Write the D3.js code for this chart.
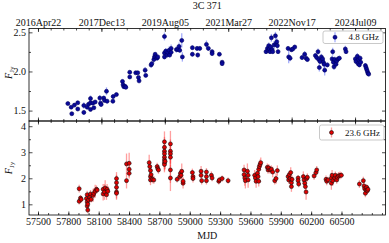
<!DOCTYPE html>
<html>
<head>
<meta charset="utf-8">
<script src="https://cdn.jsdelivr.net/npm/d3@7"></script>
<style>
  body { margin: 0; background: #fff; }
  text { font-family: "Liberation Serif", "Times New Roman", serif; }
</style>
</head>
<body>
<svg id="chart" width="389" height="243"></svg>
<script>
// 4.8 GHz light curve (top panel)
const mjd5 = [57795,57828,57834,57860,57893,57893,57953,57953,57986,57999,58019,58019,58019,58042,58052,58065,
  58111,58118,58124,58150,58157,58177,58183,58240,58243,58275,58335,58341,58348,58361,58368,58407,58407,
  58466,58486,58493,58499,58559,58565,58618,58625,58645,58651,58658,58664,58677,58684,58750,58750,58750,
  58763,58776,58783,58796,58802,58816,58816,58868,58881,58894,58901,58921,58927,59026,59026,59072,59079,
  59099,59165,59184,59221,59221,59293,59320,59320,
  59754,59768,59774,59781,59787,59794,59800,59807,59814,59820,59833,59847,59853,59860,59866,59873,
  59972,59978,59992,60005,60018,60038,60110,60136,60150,60163,
  60242,60255,60268,60275,60281,60288,60301,60314,60321,60328,60334,60360,
  60407,60413,60420,60426,60433,60446,60453,60466,60479,60538,60545,
  60637,60644,60657,60664,60670,60677,60684,60690,60736,60743,60749,60756,60762,60769];
const flux5 = [1.59,1.544,1.46,1.57,1.60,1.52,1.565,1.477,1.544,1.58,1.654,1.60,1.515,1.595,1.536,1.61,
  1.66,1.595,1.578,1.66,1.63,1.747,1.62,1.62,1.68,1.705,1.873,1.83,1.806,1.81,1.797,1.99,1.93,
  1.983,1.983,1.924,1.88,2.017,1.95,2.084,2.10,2.152,2.186,2.22,2.186,2.17,2.186,2.447,2.236,2.186,
  2.26,2.21,2.245,2.27,2.21,2.295,2.245,2.28,2.28,2.32,2.27,2.397,2.186,2.304,2.22,2.295,2.21,
  2.295,2.346,2.295,2.253,2.228,2.22,2.118,2.10,
  2.253,2.295,2.27,2.33,2.287,2.253,2.312,2.43,2.278,2.253,2.338,2.456,2.354,2.38,2.33,2.253,
  2.295,2.186,2.17,2.278,2.287,2.312,2.177,2.22,2.17,2.152,
  2.203,2.177,2.253,2.152,2.05,2.127,2.186,2.16,2.118,2.093,2.017,2.084,
  2.16,2.253,2.118,2.06,2.152,2.093,2.135,2.16,2.17,2.287,2.253,
  2.16,2.127,2.194,2.10,2.152,2.084,2.17,2.118,2.076,2.05,2.025,2.0,1.975,1.966];
const err5 = [0.02,0.02,0.02,0.02,0.02,0.02,0.04,0.03,0.03,0.02,0.04,0.03,0.02,0.02,0.02,0.02,
  0.04,0.04,0.03,0.03,0.02,0.05,0.03,0.03,0.03,0.02,0.03,0.03,0.03,0.03,0.02,0.02,0.02,
  0.02,0.02,0.02,0.03,0.04,0.02,0.04,0.03,0.04,0.04,0.03,0.04,0.03,0.03,0.05,0.04,0.03,
  0.04,0.03,0.04,0.05,0.03,0.05,0.03,0.04,0.03,0.05,0.03,0.09,0.06,0.03,0.03,0.03,0.03,
  0.03,0.05,0.03,0.03,0.03,0.02,0.02,0.02,
  0.03,0.05,0.03,0.04,0.03,0.03,0.04,0.05,0.04,0.03,0.05,0.05,0.04,0.05,0.04,0.03,
  0.03,0.08,0.04,0.03,0.03,0.03,0.03,0.04,0.04,0.03,
  0.03,0.03,0.04,0.04,0.05,0.03,0.04,0.03,0.04,0.05,0.07,0.03,
  0.04,0.05,0.04,0.04,0.04,0.03,0.03,0.03,0.03,0.04,0.03,
  0.03,0.03,0.04,0.03,0.03,0.03,0.03,0.03,0.03,0.03,0.03,0.03,0.03,0.03];

// 23.6 GHz light curve (bottom panel)
const mjd23 = [57907,57907,57920,57927,57979,57986,57986,57986,57992,57992,57999,58012,58019,58025,
  58045,58052,58065,58078,58085,58144,58144,58157,58164,58177,58183,58190,
  58276,58276,58276,58276,58276,58375,58375,58401,58401,58401,
  58599,58605,58612,58612,58618,58612,58632,58645,58678,58684,58691,
  58750,58750,58750,58750,58750,58750,58750,58750,58756,58809,58809,58809,58809,58809,58809,
  58875,58901,58908,58914,58921,58934,58934,59026,59032,59032,59112,59112,59118,59165,59165,59165,
  59214,59221,59287,59293,59320,59379,
  59537,59537,59544,59550,59570,59577,59577,
  59642,59649,59656,59669,59675,59682,59688,59695,59702,59682,
  59767,59774,59781,59794,59807,59820,59840,59853,59866,
  59972,59978,59985,59992,59998,60005,60005,60011,60071,60071,60077,
  60123,60130,60137,60143,60150,60156,60163,60229,60248,60255,
  60347,60354,60367,60400,60400,60407,60413,60433,60439,60453,60459,60472,60486,60499,
  60677,60716,60723,60729,60736,60743,60749,60756,60762];
const flux23 = [1.60,1.115,1.24,1.19,1.22,1.37,1.09,0.936,1.01,0.78,1.167,1.27,1.40,1.19,
  1.346,1.42,1.50,1.577,1.55,1.577,1.40,1.474,1.628,1.37,1.577,1.50,
  1.987,1.833,1.654,1.474,1.423,2.55,1.91,2.577,2.346,2.19,
  2.60,2.45,2.295,2.064,2.14,1.936,1.96,1.936,2.45,2.37,2.32,
  3.40,3.19,3.04,2.94,2.81,2.705,2.60,2.53,2.65,3.32,3.04,2.94,2.81,2.32,2.01,
  1.96,2.064,2.19,2.115,2.27,1.81,1.885,2.22,2.064,1.99,2.27,2.115,1.91,2.24,2.064,1.91,
  2.115,2.01,1.885,1.936,1.99,1.91,
  2.32,2.14,2.01,1.91,2.27,2.115,1.936,
  2.115,2.01,1.885,2.19,2.064,2.346,2.45,2.526,2.60,1.885,
  2.42,2.32,2.40,2.32,2.346,2.24,1.91,1.99,2.295,
  2.064,1.936,2.14,1.99,2.22,1.833,1.68,1.96,2.01,1.91,1.78,
  2.064,1.936,1.81,1.68,1.474,1.99,2.04,2.09,2.22,2.32,
  1.96,1.885,1.936,2.01,1.81,2.115,1.91,2.01,2.115,1.936,2.04,2.09,2.115,2.115,
  1.78,1.91,1.705,1.60,1.423,1.55,1.654,1.526,1.577];
const err23 = [0.15,0.12,0.12,0.12,0.12,0.15,0.15,0.12,0.15,0.12,0.12,0.12,0.15,0.12,
  0.25,0.2,0.25,0.15,0.12,0.2,0.25,0.3,0.3,0.2,0.2,0.2,
  0.25,0.3,0.25,0.3,0.2,0.4,0.3,0.4,0.3,0.2,
  0.3,0.25,0.2,0.2,0.2,0.2,0.15,0.15,0.15,0.15,0.15,
  0.4,0.4,0.45,0.4,0.3,0.35,0.3,0.3,0.3,0.5,0.45,0.4,0.4,0.5,0.5,
  0.12,0.15,0.15,0.15,0.3,0.2,0.15,0.15,0.15,0.15,0.2,0.15,0.15,0.15,0.15,0.15,
  0.15,0.12,0.12,0.12,0.12,0.12,
  0.2,0.2,0.3,0.3,0.3,0.25,0.3,
  0.2,0.2,0.25,0.2,0.2,0.25,0.2,0.2,0.2,0.2,
  0.15,0.15,0.15,0.15,0.15,0.2,0.15,0.2,0.2,
  0.15,0.15,0.15,0.15,0.2,0.2,0.2,0.15,0.12,0.12,0.12,
  0.2,0.2,0.2,0.2,0.3,0.15,0.15,0.15,0.15,0.15,
  0.15,0.15,0.12,0.2,0.25,0.2,0.2,0.15,0.15,0.15,0.15,0.15,0.15,0.12,
  0.15,0.15,0.15,0.15,0.15,0.12,0.12,0.12,0.12];

// axis ticks and labels
const mjdTicks = [57500,57800,58100,58400,58700,59000,59300,59600,59900,60200,60500];
const dateTicks = [57500,58100,58700,59300,59900,60500];
const dateLabels = ["2016Apr22","2017Dec13","2019Aug05","2021Mar27","2022Nov17","2024Jul09"];
const ticks5 = [1.5,2.0,2.5];
const ticks23 = [1,2,3,4];

const svg = d3.select("#chart");
const left = 29, right = 385.5, top1 = 28.5, mid = 121, bot = 215;

// bottom MJD scale and the (slightly different) calendar-date scale on top
const x = d3.scaleLinear().domain([57411, 60935]).range([left, right]);
const xd = d3.scaleLinear().domain([57415, 60788]).range([left, right]);
const y5 = d3.scaleLinear().domain([1.367, 2.549]).range([mid, top1]);
const y23 = d3.scaleLinear().domain([0.59, 4.2]).range([bot, mid]);

const fontSize = 10;

function styleAxis(g) {
  g.select(".domain").remove();
  g.selectAll("line").attr("stroke", "#000").attr("stroke-width", 0.7);
  g.selectAll("text").attr("font-family", "Liberation Serif, serif").attr("font-size", fontSize).attr("fill", "#111");
  g.attr("font-family", null).attr("font-size", null);
}

function xTicks(yPos, isTop, scale, major, minor, labels) {
  const ax = isTop ? d3.axisTop(scale) : d3.axisBottom(scale);
  svg.append("g").attr("transform", `translate(0,${yPos})`)
    .call(ax.tickValues(minor).tickSize(-2).tickFormat(""))
    .call(styleAxis);
  svg.append("g").attr("transform", `translate(0,${yPos})`)
    .call(ax.tickValues(major).tickSize(-3.5).tickPadding(3)
      .tickFormat(labels ? ((d, i) => labels[i]) : ""))
    .call(styleAxis);
}

function yTicks(scale, major, minor, fmt) {
  [left, right].forEach((xp, k) => {
    const ax = k === 0 ? d3.axisLeft(scale) : d3.axisRight(scale);
    svg.append("g").attr("transform", `translate(${xp},0)`)
      .call(ax.tickValues(minor).tickSize(-2).tickFormat(""))
      .call(styleAxis);
    svg.append("g").attr("transform", `translate(${xp},0)`)
      .call(ax.tickValues(major).tickSize(-3.5).tickPadding(3).tickFormat(k === 0 ? fmt : ""))
      .call(styleAxis);
  });
}

const minorMjd = d3.range(57500, 60901, 100);
const minorDate = d3.range(57500, 60800, 120);

// top axis with dates, inner borders, bottom MJD axis
xTicks(top1, true, xd, dateTicks, minorDate, dateLabels);
xTicks(mid, false, xd, dateTicks, minorDate, null);
xTicks(mid, true, xd, dateTicks, minorDate, null);
xTicks(bot, false, x, mjdTicks, minorMjd, mjdTicks.map(String));

yTicks(y5, ticks5, [1.75, 2.25], d3.format(".1f"));
yTicks(y23, ticks23, [1.5, 2.5, 3.5], d3.format("d"));

// data
function drawSeries(mjd, flux, err, y, barColor, fillColor, edgeColor, r) {
  const g = svg.append("g");
  const idx = d3.range(mjd.length);
  g.selectAll("line.err").data(idx).enter().append("line")
    .attr("x1", i => x(mjd[i])).attr("x2", i => x(mjd[i]))
    .attr("y1", i => y(flux[i] - err[i])).attr("y2", i => y(flux[i] + err[i]))
    .attr("stroke", barColor).attr("stroke-width", 1.3).attr("stroke-opacity", 0.5);
  g.selectAll("circle").data(idx).enter().append("circle")
    .attr("cx", i => x(mjd[i])).attr("cy", i => y(flux[i])).attr("r", r)
    .attr("fill", fillColor).attr("stroke", edgeColor).attr("stroke-width", 0.6);
}

drawSeries(mjd5, flux5, err5, y5, "#4a5cf5", "#0a0a9a", "#000060", 2.0);
drawSeries(mjd23, flux23, err23, y23, "#ff4040", "#e00000", "#111", 2.0);

// frames
[[top1, mid], [mid, bot]].forEach(([a, b]) => {
  svg.append("rect").attr("x", left).attr("y", a).attr("width", right - left).attr("height", b - a)
    .attr("fill", "none").attr("stroke", "#000").attr("stroke-width", 0.8);
});

// legends
function legend(x0, y0, w, h, label, barColor, fillColor, edgeColor) {
  svg.append("rect").attr("x", x0).attr("y", y0).attr("width", w).attr("height", h)
    .attr("rx", 2).attr("fill", "#fff").attr("stroke", "#bbb").attr("stroke-width", 0.8);
  const mx = x0 + 12, my = y0 + h / 2;
  svg.append("line").attr("x1", mx).attr("x2", mx).attr("y1", my - 5).attr("y2", my + 5)
    .attr("stroke", barColor).attr("stroke-width", 1.3).attr("stroke-opacity", 0.5);
  svg.append("circle").attr("cx", mx).attr("cy", my).attr("r", 2.0)
    .attr("fill", fillColor).attr("stroke", edgeColor).attr("stroke-width", 0.6);
  svg.append("text").attr("x", x0 + w - 4).attr("y", my + 3.2).attr("text-anchor", "end")
    .attr("font-size", 9).attr("fill", "#111").text(label);
}
legend(323, 31, 60, 12.5, "4.8 GHz", "#4a5cf5", "#0a0a9a", "#000060");
legend(319.5, 125, 64.5, 15, "23.6 GHz", "#ff4040", "#e00000", "#111");

// titles and labels
svg.append("text").attr("x", (left + right) / 2).attr("y", 9).attr("text-anchor", "middle")
  .attr("font-size", 10).attr("fill", "#111").text("3C 371");
svg.append("text").attr("x", (left + right) / 2).attr("y", 238.5).attr("text-anchor", "middle")
  .attr("font-size", 10).attr("fill", "#111").text("MJD");

function yLabel(yc) {
  const t = svg.append("text").attr("transform", `translate(12,${yc}) rotate(-90)`)
    .attr("text-anchor", "middle").attr("font-size", 10).attr("fill", "#111");
  t.append("tspan").attr("font-style", "italic").text("F");
  t.append("tspan").attr("font-size", 7).attr("dy", 2).text("Jy");
}
yLabel((top1 + mid) / 2 - 2);
yLabel((mid + bot) / 2);
</script>
</body>
</html>
